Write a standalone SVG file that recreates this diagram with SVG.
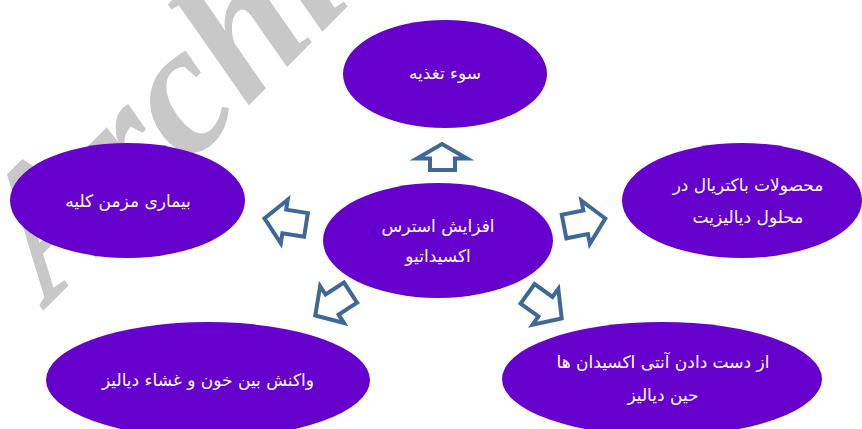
<svg xmlns="http://www.w3.org/2000/svg" width="862" height="429" viewBox="0 0 862 429">
<style>
.wm{font-family:"Liberation Serif",serif;font-weight:bold;font-style:italic;font-size:185px;fill:#c8c8c8}
.node ellipse{fill:#6600cc}
.node text{font-family:"DejaVu Sans","Noto Sans",sans-serif;font-size:17px;fill:#ffffff;text-anchor:middle;dominant-baseline:central;direction:rtl}
.arr{fill:#ffffff;stroke:#3f6896;stroke-width:4;stroke-linejoin:miter;stroke-miterlimit:10}
</style>
<defs>
<path id="ar" d="M0,0 L-20,-22 L-20,-12 L-42,-12 L-42,12 L-20,12 L-20,22 Z"/>
</defs>
<rect width="862" height="429" fill="#ffffff"/>
<text class="wm" transform="translate(50,304) rotate(-45)">Archive</text>
<g id="n-top" class="node"><ellipse cx="445" cy="74" rx="102" ry="54"/><text x="445" y="73">سوء تغذیه</text></g>
<g id="n-left" class="node"><ellipse cx="127.5" cy="200.5" rx="117.5" ry="57.5"/><text x="128" y="201">بیماری مزمن کلیه</text></g>
<g id="n-center" class="node"><ellipse cx="438" cy="240.5" rx="115" ry="57.5"/><text x="438" y="226">افزایش استرس</text><text x="438" y="256">اکسیداتیو</text></g>
<g id="n-right" class="node"><ellipse cx="742" cy="200.5" rx="120" ry="57.5"/><text x="748" y="185">محصولات باکتریال در</text><text x="748" y="217">محلول دیالیزیت</text></g>
<g id="n-bl" class="node"><ellipse cx="208" cy="380" rx="162" ry="58"/><text x="208" y="380">واکنش بین خون و غشاء دیالیز</text></g>
<g id="n-br" class="node"><ellipse cx="662" cy="379" rx="160" ry="57"/><text x="663" y="362">از دست دادن آنتی اکسیدان ها</text><text x="663" y="395">حین دیالیز</text></g>
<g id="connectors">
<path class="arr" d="M442,144 L467,158.5 L455,158.5 L455,170 L430,170 L430,158.5 L417,158.5 Z"/>
<use href="#ar" class="arr" transform="translate(264.5,218.4) rotate(189)"/>
<use href="#ar" class="arr" transform="translate(605.3,218.5) rotate(-11)"/>
<use href="#ar" class="arr" transform="translate(315.3,315.5) rotate(147)"/>
<use href="#ar" class="arr" transform="translate(561.7,318.4) rotate(35.7)"/>
</g>
</svg>
